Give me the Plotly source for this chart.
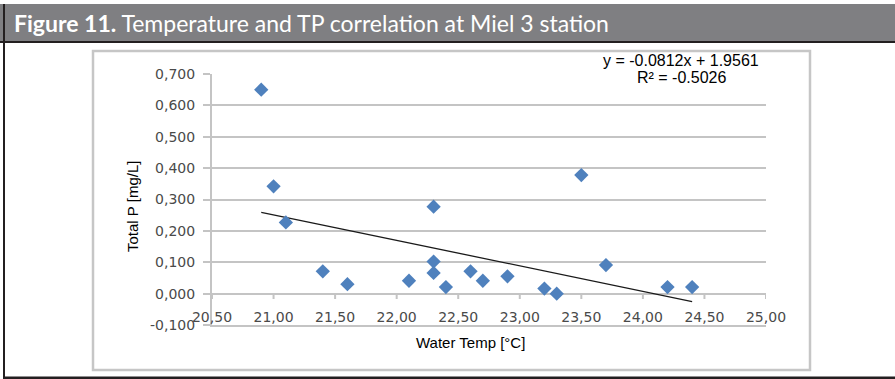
import plotly.graph_objects as go

# ---- data ----
water_temp = [20.9, 21.0, 21.1, 21.4, 21.6, 22.1, 22.3, 22.3, 22.3, 22.4,
              22.6, 22.7, 22.9, 23.2, 23.3, 23.5, 23.7, 24.2, 24.4]
total_p = [0.650, 0.342, 0.227, 0.071, 0.030, 0.041, 0.277, 0.102, 0.066, 0.021,
           0.071, 0.041, 0.055, 0.016, 0.000, 0.378, 0.091, 0.021, 0.021]
slope = -0.0812
intercept = 1.9561
r2_text = "-0.5026"
x_ticks = [20.5, 21.0, 21.5, 22.0, 22.5, 23.0, 23.5, 24.0, 24.5, 25.0]
x_tick_labels = ["20,50", "21,00", "21,50", "22,00", "22,50", "23,00", "23,50", "24,00", "24,50", "25,00"]
y_ticks = [-0.1, 0.0, 0.1, 0.2, 0.3, 0.4, 0.5, 0.6, 0.7]
y_tick_labels = ["-0,100", "0,000", "0,100", "0,200", "0,300", "0,400", "0,500", "0,600", "0,700"]

W, H = 895, 379
L, R, T, B = 212, 129, 74, 54
PW, PH = W - L - R, H - T - B


def px(X):
    return (X - L) / PW


def py(Y):
    return (H - B - Y) / PH


trend_x = [min(water_temp), max(water_temp)]
trend_y = [slope * v + intercept for v in trend_x]

fig = go.Figure()
fig.add_trace(go.Scatter(x=trend_x, y=trend_y, mode="lines",
                         line=dict(color="#1a1a1a", width=1.3), hoverinfo="skip",
                         showlegend=False))
fig.add_trace(go.Scatter(x=water_temp, y=total_p, mode="markers",
                         marker=dict(symbol="diamond", size=11, color="#4f81bd",
                                     line=dict(width=0)),
                         showlegend=False))

grid = "#c4c4c4"
tick_font = dict(family="DejaVu Sans", size=14, color="#4a4a4a")

fig.update_xaxes(range=[20.5, 25.0], tickvals=x_ticks, ticktext=x_tick_labels,
                 showgrid=False, zeroline=False, showline=True, linecolor=grid,
                 linewidth=2, ticks="", ticklabelposition="inside",
                 ticklabeloverflow="allow", tickfont=tick_font)
fig.update_yaxes(range=[-0.1, 0.7], tickvals=y_ticks, ticktext=y_tick_labels,
                 showgrid=True, gridcolor=grid, gridwidth=2, zeroline=False,
                 showline=True, linecolor=grid, linewidth=2, ticks="outside",
                 ticklen=7, tickcolor=grid, tickwidth=2, ticklabelstandoff=5,
                 tickfont=tick_font)

shapes = []
# header bar
shapes.append(dict(type="rect", xref="paper", yref="paper", x0=px(0), x1=px(W),
                   y0=py(41), y1=py(4), fillcolor="#7f7f82", line_width=0, layer="below"))
shapes.append(dict(type="rect", xref="paper", yref="paper", x0=px(0), x1=px(W),
                   y0=py(43), y1=py(41), fillcolor="#231f20", line_width=0))
# outer frame left and bottom
shapes.append(dict(type="rect", xref="paper", yref="paper", x0=px(3), x1=px(5),
                   y0=py(379), y1=py(4), fillcolor="#231f20", line_width=0))
shapes.append(dict(type="rect", xref="paper", yref="paper", x0=px(3), x1=px(W),
                   y0=py(379), y1=py(376.5), fillcolor="#231f20", line_width=0))
# chart box
shapes.append(dict(type="rect", xref="paper", yref="paper", x0=px(93), x1=px(810),
                   y0=py(370), y1=py(51), fillcolor="rgba(0,0,0,0)",
                   line=dict(color="#c6c6c6", width=2.5), layer="below"))
# tick marks on the zero line
for tv in x_ticks:
    shapes.append(dict(type="line", xref="x", yref="paper", x0=tv, x1=tv,
                       y0=py(294), y1=py(299), line=dict(color=grid, width=2)))

annotations = [
    dict(xref="paper", yref="paper", x=px(12), y=py(23.5), xanchor="left", yanchor="middle",
         text="<b>Figure 11.</b> Temperature and TP correlation at Miel 3 station",
         showarrow=False, font=dict(family="Lato", size=23, color="white")),
    dict(xref="paper", yref="paper", x=px(681), y=py(60), xanchor="center", yanchor="middle",
         text=f"y = {slope}x + {intercept}", showarrow=False, borderpad=0,
         font=dict(family="Liberation Sans", size=16, color="black")),
    dict(xref="paper", yref="paper", x=px(681), y=py(77), xanchor="center", yanchor="middle",
         text=f"R² = {r2_text}", showarrow=False, borderpad=0,
         font=dict(family="Liberation Sans", size=16, color="black")),
    dict(xref="paper", yref="paper", x=px(132), y=py(207), xanchor="center", yanchor="middle",
         text="Total P [mg/L]", textangle=-90, showarrow=False,
         font=dict(family="Liberation Sans", size=15, color="black")),
    dict(xref="paper", yref="paper", x=px(470), y=py(342), xanchor="center", yanchor="middle",
         text="Water Temp [°C]", showarrow=False,
         font=dict(family="Liberation Sans", size=15, color="black")),
]

fig.update_layout(width=W, height=H, margin=dict(l=L, r=R, t=T, b=B),
                  paper_bgcolor="white", plot_bgcolor="white",
                  shapes=shapes, annotations=annotations, showlegend=False)

fig.write_html("out.html")
